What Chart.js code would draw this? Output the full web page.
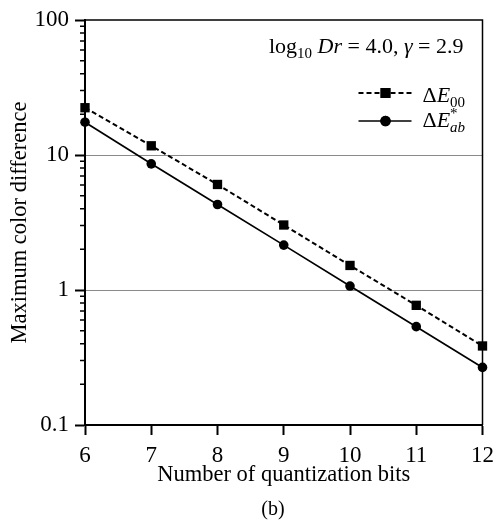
<!DOCTYPE html>
<html>
<head>
<meta charset="utf-8">
<script src="https://cdn.jsdelivr.net/npm/chart.js@4"></script>
<style>
  html, body { margin: 0; padding: 0; background: #fff; }
</style>
</head>
<body>
<canvas id="chart" width="501" height="521"></canvas>
<script>
// values
const bits = [6, 7, 8, 9, 10, 11, 12];
const dE00 = [22.4, 11.7, 6.05, 3.03, 1.52, 0.77, 0.385];
const dEab = [17.5, 8.6, 4.3, 2.15, 1.07, 0.535, 0.267];
const yMajorTicks = [0.1, 1, 10, 100];
const yGridValues = [1, 10];

const serif = '"Liberation Serif", "Times New Roman", serif';

function font(size, italic) {
  return (italic ? 'italic ' : '') + size + 'px ' + serif;
}

// draws a run of text pieces, each {t, size, italic, dy}; returns total width
function drawRun(ctx, parts, x, y, measureOnly) {
  let cx = x;
  parts.forEach(p => {
    ctx.font = font(p.size, p.italic);
    if (!measureOnly) ctx.fillText(p.t, cx, y + (p.dy || 0));
    if (!p.noAdvance) cx += ctx.measureText(p.t).width;
  });
  return cx - x;
}

const decor = {
  id: 'decor',
  afterDraw(chart) {
    const ctx = chart.ctx;
    const a = chart.chartArea;
    const ys = chart.scales.y;
    ctx.save();

    // top / right frame
    ctx.strokeStyle = '#000';
    ctx.lineWidth = 1.5;
    ctx.beginPath();
    ctx.moveTo(a.left, a.top);
    ctx.lineTo(a.right, a.top);
    ctx.lineTo(a.right, a.bottom);
    ctx.stroke();

    // minor log ticks on the left axis
    ctx.beginPath();
    yMajorTicks.slice(0, -1).forEach(d => {
      for (let m = 2; m <= 9; m++) {
        const py = ys.getPixelForValue(d * m);
        ctx.moveTo(a.left - 5, py);
        ctx.lineTo(a.left, py);
      }
    });
    ctx.stroke();

    ctx.fillStyle = '#000';
    ctx.textBaseline = 'alphabetic';

    // parameter note
    const note = [
      { t: 'log', size: 22 },
      { t: '10', size: 15, dy: 5 },
      { t: ' ', size: 22 },
      { t: 'Dr', size: 22, italic: true },
      { t: ' = 4.0, ', size: 22 },
      { t: 'γ', size: 22, italic: true },
      { t: ' = 2.9', size: 22 }
    ];
    const nw = drawRun(ctx, note, 0, 0, true);
    drawRun(ctx, note, a.right - 19 - nw, a.top + 33, false);

    // legend
    const rows = [
      { ds: chart.data.datasets[0], y: a.top + 73, base: a.top + 82,
        text: [{ t: 'Δ', size: 22 }, { t: 'E', size: 22, italic: true }, { t: '00', size: 15, dy: 5 }] },
      { ds: chart.data.datasets[1], y: a.top + 101, base: a.top + 107,
        text: [{ t: 'Δ', size: 22 }, { t: 'E', size: 22, italic: true },
               { t: '*', size: 15, dy: -9, noAdvance: true }, { t: 'ab', size: 15, italic: true, dy: 5 }] }
    ];
    rows.forEach(r => {
      const x0 = a.right - 124, x1 = a.right - 71, xm = a.right - 97;
      ctx.strokeStyle = '#000';
      ctx.lineWidth = r.ds.borderWidth;
      ctx.setLineDash(r.ds.borderDash || []);
      ctx.beginPath();
      ctx.moveTo(x0, r.y);
      ctx.lineTo(x1, r.y);
      ctx.stroke();
      ctx.setLineDash([]);
      ctx.fillStyle = '#000';
      Chart.helpers.drawPoint(ctx, {
        pointStyle: r.ds.pointStyle, radius: r.ds.pointRadius + 0.4, borderWidth: 0, rotation: 0
      }, xm, r.y);
      ctx.fill();
      drawRun(ctx, r.text, a.right - 60, r.base, false);
    });

    // panel caption
    ctx.font = font(20);
    ctx.textAlign = 'center';
    ctx.textBaseline = 'middle';
    ctx.fillText('(b)', 273, 510);

    ctx.restore();
  }
};

new Chart(document.getElementById('chart'), {
  type: 'line',
  data: {
    datasets: [
      {
        label: 'ΔE00',
        data: bits.map((b, i) => ({ x: b, y: dE00[i] })),
        borderColor: '#000',
        backgroundColor: '#000',
        borderWidth: 2,
        borderDash: [5, 3],
        pointStyle: 'rect',
        pointRadius: 6.6,
        pointBorderWidth: 0,
        clip: false
      },
      {
        label: 'ΔE*ab',
        data: bits.map((b, i) => ({ x: b, y: dEab[i] })),
        borderColor: '#000',
        backgroundColor: '#000',
        borderWidth: 1.7,
        pointStyle: 'circle',
        pointRadius: 4.8,
        pointBorderWidth: 0,
        clip: false
      }
    ]
  },
  options: {
    responsive: false,
    animation: false,
    devicePixelRatio: 1,
    layout: { padding: { top: 20, right: 12, left: 0, bottom: 0 } },
    plugins: { legend: { display: false }, tooltip: { enabled: false } },
    scales: {
      x: {
        type: 'linear',
        min: 6,
        max: 12,
        afterFit: s => { s.height = 96; },
        ticks: { stepSize: 1, color: '#000', font: { family: serif, size: 23 }, padding: 7 },
        grid: { drawOnChartArea: false, tickLength: 10, tickColor: '#000', tickWidth: 2 },
        border: { color: '#000', width: 2 },
        title: {
          display: true,
          text: 'Number of quantization bits',
          color: '#000',
          font: { family: serif, size: 22.5 },
          padding: { top: 0, bottom: 32 }
        }
      },
      y: {
        type: 'logarithmic',
        min: 0.1,
        max: 100,
        afterFit: s => { s.width = 85; },
        afterBuildTicks: s => { s.ticks = yMajorTicks.map(v => ({ value: v })); },
        ticks: {
          color: '#000',
          font: { family: serif, size: 23 },
          padding: 6,
          callback: v => String(v)
        },
        grid: {
          tickLength: 10,
          tickWidth: 2,
          tickColor: '#000',
          lineWidth: 1,
          color: c => yGridValues.includes(c.tick && c.tick.value) ? '#8a8a8a' : 'rgba(0,0,0,0)'
        },
        border: { color: '#000', width: 2 },
        title: {
          display: true,
          text: 'Maximum color difference',
          color: '#000',
          font: { family: serif, size: 22.5 },
          padding: { top: 7, bottom: 0 }
        }
      }
    }
  },
  plugins: [decor]
});
</script>
</body>
</html>
